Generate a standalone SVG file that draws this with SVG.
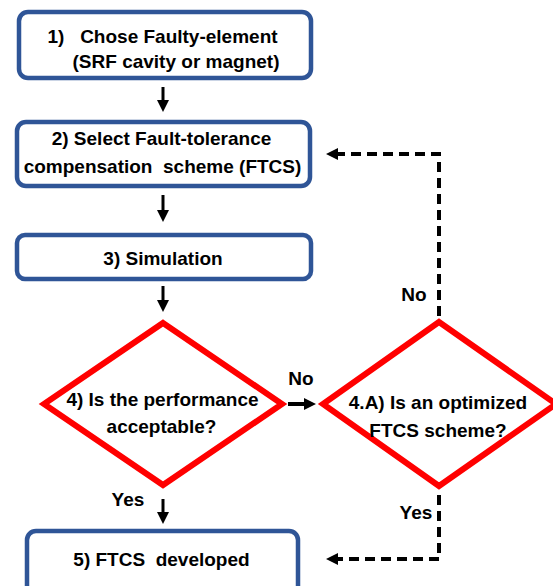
<svg xmlns="http://www.w3.org/2000/svg" width="553" height="586" viewBox="0 0 553 586">
<style>
.box{fill:#fff;stroke:#2F5597;stroke-width:4.5}
.dia{fill:#fff;stroke:#FF0000;stroke-width:6;stroke-linejoin:miter}
.t{font-family:"Liberation Sans",Arial,sans-serif;font-weight:bold;font-size:19px;fill:#000;text-anchor:middle;white-space:pre}
.solid{stroke:#000;stroke-width:3;fill:none}
.dash{stroke:#000;stroke-width:4;fill:none;stroke-dasharray:10 6}
</style>
<defs>
<marker id="ah" markerUnits="userSpaceOnUse" viewBox="0 0 12 12" refX="2" refY="6" markerWidth="12" markerHeight="12" orient="auto">
<path d="M0,0 L12,6 L0,12 z" fill="#000"/>
</marker>
</defs>
<g id="n1"><rect class="box" x="19" y="12" width="292" height="66" rx="9"/>
<text class="t" x="162.5" y="43" xml:space="preserve">1)   Chose Faulty-element</text>
<text class="t" x="176" y="68">(SRF cavity or magnet)</text></g>
<g id="n2"><rect class="box" x="17" y="122" width="293" height="64" rx="9"/>
<text class="t" x="161.5" y="145">2) Select Fault-tolerance</text>
<text class="t" x="162.5" y="173" xml:space="preserve">compensation  scheme (FTCS)</text></g>
<g id="n3"><rect class="box" x="17" y="235" width="294" height="44" rx="8"/>
<text class="t" x="163" y="265">3) Simulation</text></g>
<g id="n4"><polygon class="dia" points="163,323 282,404 163,485 44,404"/>
<text class="t" x="162.5" y="406">4) Is the performance</text>
<text class="t" x="161.5" y="433">acceptable?</text></g>
<g id="n4a"><polygon class="dia" points="439,322 556,404 439,486 323,404"/>
<text class="t" x="438" y="409">4.A) Is an optimized</text>
<text class="t" x="438" y="437">FTCS scheme?</text></g>
<g id="n5"><rect class="box" x="27" y="531" width="271" height="70" rx="9"/>
<text class="t" x="161.5" y="566" xml:space="preserve">5) FTCS  developed</text></g>
<g id="connectors">
<line class="solid" x1="163" y1="87" x2="163" y2="102" marker-end="url(#ah)"/>
<line class="solid" x1="163" y1="195" x2="163" y2="212" marker-end="url(#ah)"/>
<line class="solid" x1="163" y1="286" x2="163" y2="302" marker-end="url(#ah)"/>
<line class="solid" x1="163" y1="499" x2="163" y2="514" marker-end="url(#ah)"/>
<line class="solid" style="stroke-width:4" x1="288" y1="404" x2="306" y2="404" marker-end="url(#ah)"/>
<path class="dash" d="M439,316 V154 H336" marker-end="url(#ah)"/>
<path class="dash" d="M439,495 V559 H336" marker-end="url(#ah)"/>
<text class="t" x="301" y="385">No</text>
<text class="t" x="414" y="301">No</text>
<text class="t" x="128" y="506">Yes</text>
<text class="t" x="416" y="519">Yes</text>
</g>
</svg>
